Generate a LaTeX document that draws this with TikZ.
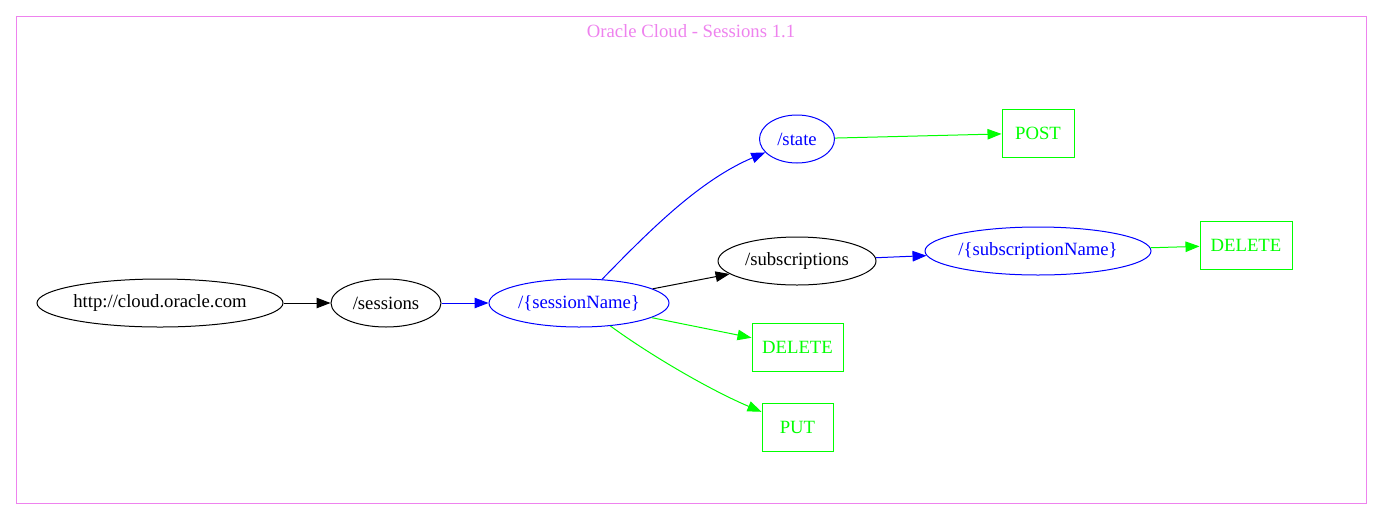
\documentclass[tikz,border=0pt]{standalone}
\usepackage{fontspec}
\setmainfont{Liberation Serif}
\usetikzlibrary{arrows.meta,shapes.geometric}
\definecolor{frame}{RGB}{238,130,238}

\begin{document}
\begin{tikzpicture}[->,>={Triangle[length=14pt,width=10.5pt]},x=1pt,y=-1pt,
                    line width=1pt,font=\fontsize{18.7}{22}\selectfont]
  \tikzstyle{res}=[ellipse,draw,inner sep=0pt,minimum height=48pt]
  \tikzstyle{verb}=[rectangle,draw=green,text=green,inner sep=0pt,minimum height=48pt]

  \useasboundingbox (0,0) rectangle (1383,520);
  \draw[frame,-] (16,16) rectangle (1366,503);
  \node[text=frame] (title) at (691,31) {Oracle Cloud - Sessions 1.1};

  \node[res,minimum width=246pt]      (root)    at (160,303)  {http://cloud.oracle.com};
  \node[res,minimum width=110pt]      (sess)    at (386,303)  {/sessions};
  \node[res,blue,minimum width=180pt] (sname)   at (579,303)  {/\{sessionName\}};
  \node[res,blue,minimum width=75pt]  (state)   at (797,139)  {/state};
  \node[verb,minimum width=72pt]      (post)    at (1038,133) {POST};
  \node[res,minimum width=158pt]      (subs)    at (797,261)  {/subscriptions};
  \node[res,blue,minimum width=226pt] (subname) at (1038,251) {/\{subscriptionName\}};
  \node[verb,minimum width=92pt]      (delsub)  at (1246,245) {DELETE};
  \node[verb,minimum width=91pt]      (delsess) at (797.5,347) {DELETE};
  \node[verb,minimum width=71pt]      (put)     at (797.5,427) {PUT};

  \path (root) edge (sess)
        (sess) edge[blue] (sname)
        (sname) edge (subs)
                edge[green] (delsess)
        (state) edge[green] (post)
        (subs) edge[blue] (subname)
        (subname) edge[green] (delsub);
  \draw[blue] (sname) .. controls (650,230) and (700,180) .. (state);
  \draw[green] (sname) .. controls (650,355) and (710,390) .. (put);
\end{tikzpicture}
\end{document}
